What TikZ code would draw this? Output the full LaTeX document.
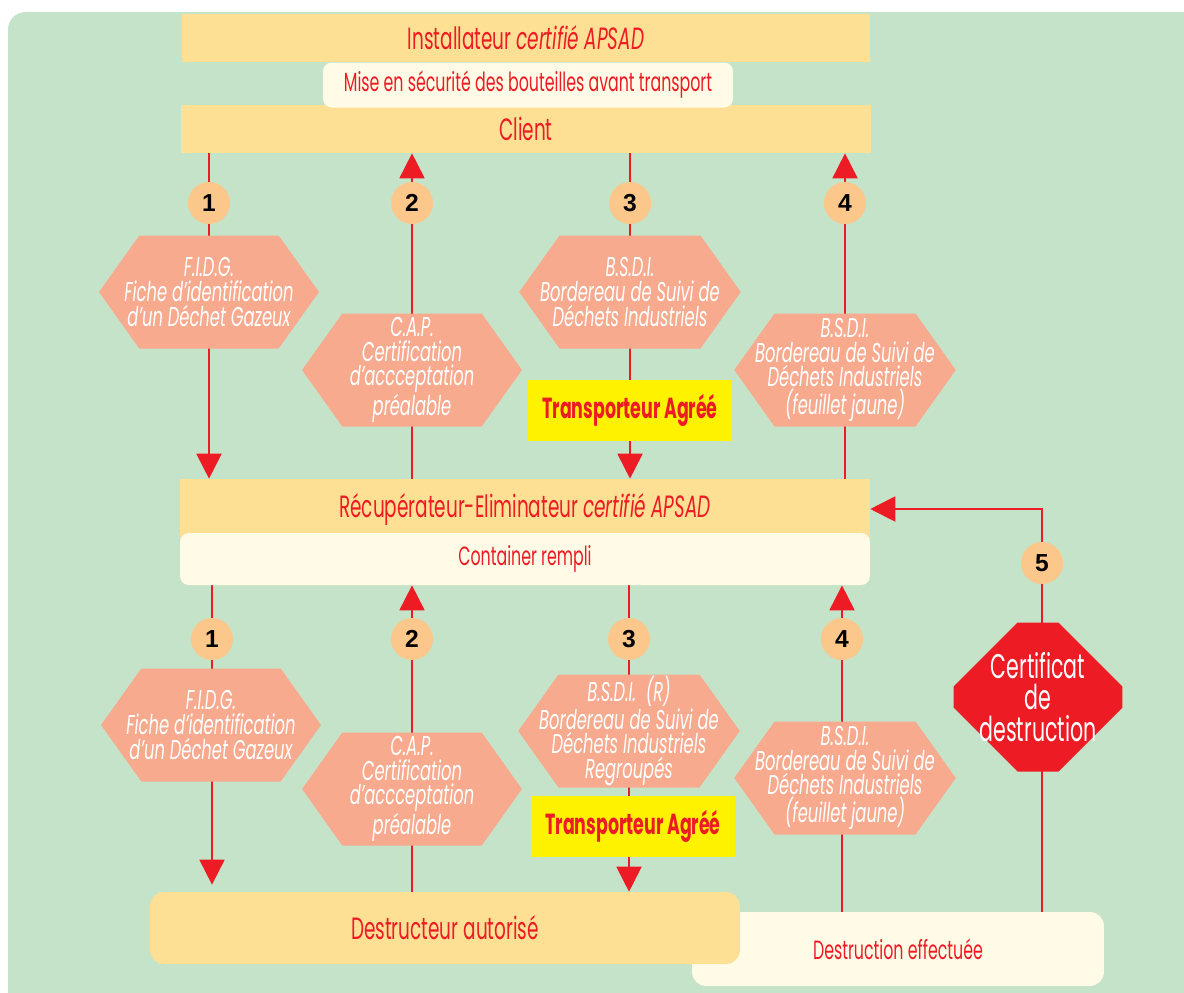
\documentclass[tikz,border=0pt]{standalone}
\usepackage{fontspec}
\setmainfont{Poppins}[FakeStretch=0.6]
\newfontfamily\numfont{Liberation Sans}
\definecolor{bggreen}{RGB}{197,227,201}
\definecolor{bandyellow}{RGB}{253,224,148}
\definecolor{cream}{RGB}{255,251,231}
\definecolor{salmon}{RGB}{248,170,143}
\definecolor{flowred}{RGB}{237,28,36}
\definecolor{numorange}{RGB}{252,199,138}
\definecolor{carryellow}{RGB}{255,242,0}
\usetikzlibrary{shapes.symbols,shapes.misc,arrows.meta,backgrounds}
\begin{document}
\begin{tikzpicture}[x=0.02cm, y=-0.02cm,
    band/.style={fill=bandyellow, text=flowred, inner sep=0pt, font=\fontsize{17.5}{20}\selectfont},
    note/.style={fill=cream, text=flowred, rounded corners=5pt, inner sep=0pt, font=\fontsize{15}{18}\selectfont},
    hexa/.style={signal, signal to=east and west, signal pointer angle=109, fill=salmon, text=white,
      minimum width=4.4cm, minimum height=2.26cm, inner xsep=-11pt, inner ysep=0pt, align=center,
      font=\itshape\fontsize{15.5}{14}\selectfont},
    num/.style={circle, fill=numorange, minimum size=0.84cm, inner sep=0pt, font=\numfont\bfseries\fontsize{14}{14}\selectfont},
    carrier/.style={fill=carryellow, text=flowred, minimum width=4.1cm, minimum height=1.22cm, inner sep=0pt,
      font=\bfseries\fontsize{16.5}{18}\selectfont},
    arr/.style={draw=flowred, line width=1.1pt, -{Triangle[length=0.5cm, width=0.5cm]}}]
  \useasboundingbox (0,0) rectangle (1184,992);
  \begin{scope}[on background layer]
    \fill[white] (0,0) rectangle (1184,992);
    \fill[bggreen, rounded corners=10pt] (8,12) rectangle (1200,1010);
  \end{scope}
  % Upper boxes
  \node[band, minimum width=13.76cm, minimum height=0.96cm] (install) at (526,38) {Installateur \textit{certifié APSAD}};
  \node[band, minimum width=13.8cm, minimum height=0.96cm] (client) at (526,129) {Client};
  \node[note, minimum width=8.2cm, minimum height=0.9cm] (secure) at (528,85) {Mise en sécurité des bouteilles avant transport};
  % Middle boxes
  \node[band, minimum width=13.8cm, minimum height=1.2cm] (recup) at (525,509) {Récupérateur-Eliminateur \textit{certifié APSAD}};
  \node[note, minimum width=13.8cm, minimum height=1.04cm] (container) at (525,559) {Container rempli};
  % Lower boxes
  \node[note, minimum width=8.24cm, minimum height=1.48cm, rounded corners=8pt] (done) at (898,949) {Destruction effectuée};
  \node[band, minimum width=11.8cm, minimum height=1.44cm, rounded corners=8pt] (destr) at (445,928) {Destructeur autorisé};
  % Upper documents
  \node[num] (n1) at (209,203) {1};
  \node[num] (n2) at (412,203) {2};
  \node[num] (n3) at (630,203) {3};
  \node[num] (n4) at (845,203) {4};
  \node[hexa] (fidg) at (209,292) {F.I.D.G.\\Fiche d’identification\\d’un Déchet Gazeux};
  \node[hexa] (cap) at (412,370) {C.A.P.\\Certification\\d’accceptation\\préalable};
  \node[hexa] (bsdi) at (630,292) {B.S.D.I.\\Bordereau de Suivi de\\Déchets Industriels};
  \node[hexa] (bsdij) at (845,370) {B.S.D.I.\\Bordereau de Suivi de\\Déchets Industriels\\(feuillet jaune)};
  \node[carrier] (carrier) at (630,410) {Transporteur Agréé};
  % Lower documents
  \node[num] (m1) at (212,639) {1};
  \node[num] (m2) at (412,639) {2};
  \node[num] (m3) at (629,639) {3};
  \node[num] (m4) at (842,639) {4};
  \node[hexa] (fidgb) at (211,725) {F.I.D.G.\\Fiche d’identification\\d’un Déchet Gazeux};
  \node[hexa] (capb) at (412,789) {C.A.P.\\Certification\\d’accceptation\\préalable};
  \node[hexa] (bsdir) at (629,731) {B.S.D.I.~~(R)\\Bordereau de Suivi de\\Déchets Industriels\\Regroupés};
  \node[hexa] (bsdijb) at (845,778) {B.S.D.I.\\Bordereau de Suivi de\\Déchets Industriels\\(feuillet jaune)};
  \node[carrier] (carrierb) at (633,826) {Transporteur Agréé};
  % Certificate
  \node[num] (n5) at (1042,563) {5};
  \node[chamfered rectangle, chamfered rectangle xsep=0.64cm, chamfered rectangle ysep=0.64cm,
    fill=flowred, text=white, minimum width=3.38cm, minimum height=2.98cm, inner xsep=-0.2cm, inner ysep=-0.12cm,
    align=center, font=\fontsize{19.5}{18}\selectfont] (cert) at (1038,697) {Certificat\\de\\destruction};
  % Arrows
  \begin{scope}[on background layer]
    \draw[arr] (client.south -| n1) -- (recup.north -| n1);
    \draw[arr] (recup.north -| n2) -- (client.south -| n2);
    \draw[arr] (client.south -| n3) -- (recup.north -| n3);
    \draw[arr] (recup.north -| n4) -- (client.south -| n4);
    \draw[arr] (container.south -| m1) -- ([yshift=4pt]destr.north -| m1);
    \draw[arr] (destr.north -| m2) -- (container.south -| m2);
    \draw[arr] (container.south -| m3) -- (destr.north -| m3);
    \draw[arr] (done.north -| m4) -- (container.south -| m4);
    \draw[arr] (done.north -| n5) |- (recup.east);
  \end{scope}
\end{tikzpicture}
\end{document}
